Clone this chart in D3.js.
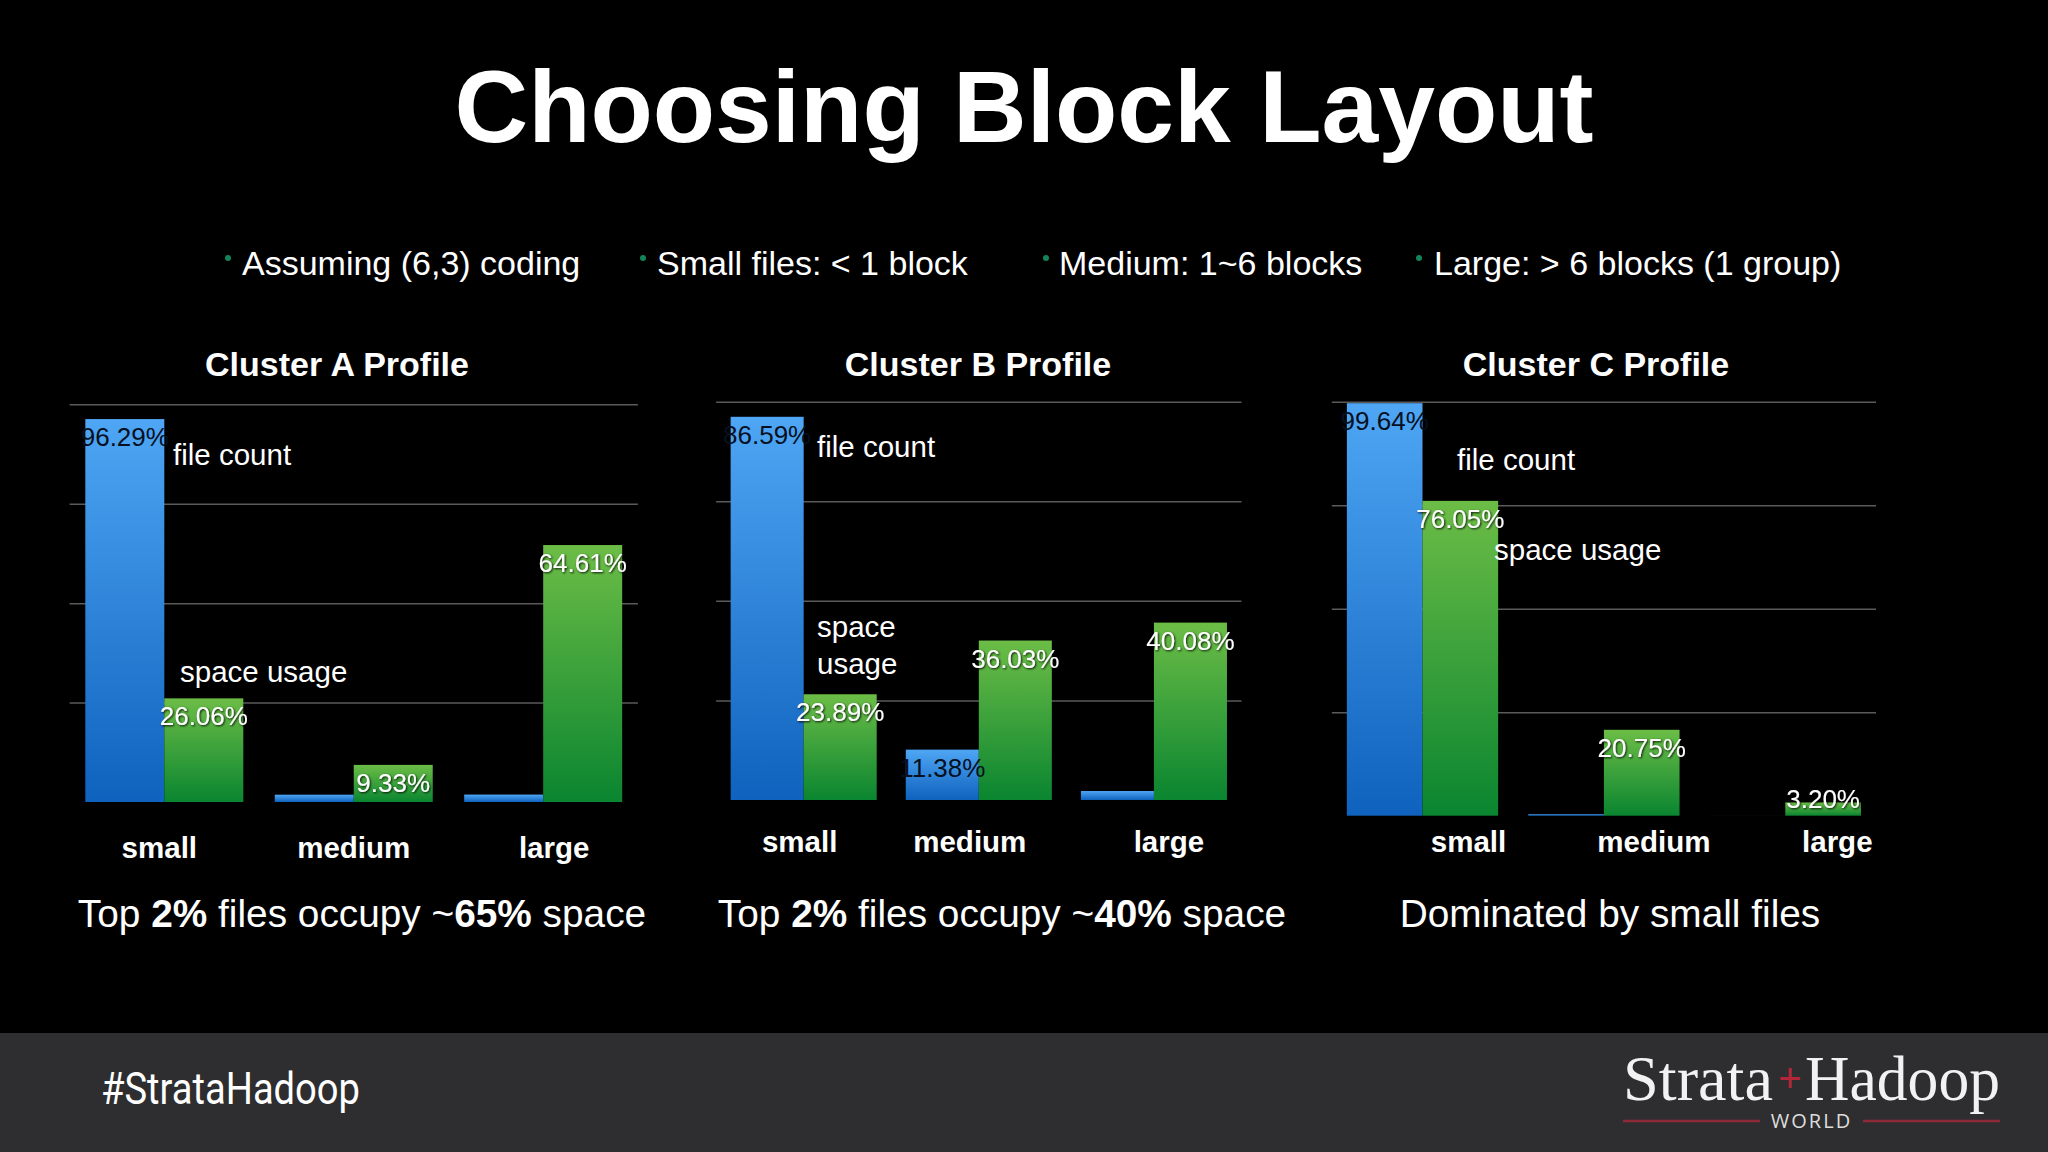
<!DOCTYPE html>
<html>
<head>
<meta charset="utf-8">
<script src="https://cdn.jsdelivr.net/npm/d3@7"></script>
<style>
  html, body { margin: 0; padding: 0; background: #000; }
  svg { display: block; }
</style>
</head>
<body>
<svg id="chart" width="2048" height="1152" font-family="'Liberation Sans', Arial, Helvetica, sans-serif"></svg>
<script>
// ---------------- data ----------------
const slideTitle = "Choosing Block Layout";
const bullets = ["Assuming (6,3) coding", "Small files: < 1 block", "Medium: 1~6 blocks", "Large: > 6 blocks (1 group)"];
const categories = ["small", "medium", "large"];
const clusterNames = ["Cluster A Profile", "Cluster B Profile", "Cluster C Profile"];
const fileCountA = [96.29, 1.84, 1.87];
const spaceUsageA = [26.06, 9.33, 64.61];
const fileCountB = [86.59, 11.38, 2.03];
const spaceUsageB = [23.89, 36.03, 40.08];
const fileCountC = [99.64, 0.35, 0.01];
const spaceUsageC = [76.05, 20.75, 3.20];
const axisMax = [100, 90, 100];
const gridTicksA = [25, 50, 75, 100];
const gridTicksB = [22.5, 45, 67.5, 90];
const gridTicksC = [25, 50, 75, 100];
const seriesNames = ["file count", "space usage"];
// captions: segments [text, bold]
const captionA = [["Top ", false], ["2%", true], [" files occupy ~", false], ["65%", true], [" space", false]];
const captionB = [["Top ", false], ["2%", true], [" files occupy ~", false], ["40%", true], [" space", false]];
const captionC = [["Dominated by small files", false]];
const hashtag = "#StrataHadoop";

// ---------------- layout (positions only) ----------------
const layout = [
  { x0: 69.6, x1: 637.9, yBase: 802, yTop: 404.3, titleX: 337, catY: 858, catOff: [-5, 0, 11],
    ann: [{ lines: ["file count"], x: 173, y: 465 }, { lines: ["space usage"], x: 180, y: 682 }], capX: 362 },
  { x0: 716.1, x1: 1241.5, yBase: 800, yTop: 401.7, titleX: 978, catY: 852, catOff: [-4, -9, 15],
    ann: [{ lines: ["file count"], x: 817, y: 457 }, { lines: ["space", "usage"], x: 817, y: 637 }], capX: 1002 },
  { x0: 1331.8, x1: 1876, yBase: 815.7, yTop: 401.7, titleX: 1596, catY: 852, catOff: [46, 50, 52],
    ann: [{ lines: ["file count"], x: 1457, y: 470 }, { lines: ["space usage"], x: 1494, y: 560 }], capX: 1610 }
];

const clusterData = [
  { name: clusterNames[0], file: fileCountA, space: spaceUsageA, max: axisMax[0], ticks: gridTicksA, caption: captionA },
  { name: clusterNames[1], file: fileCountB, space: spaceUsageB, max: axisMax[1], ticks: gridTicksB, caption: captionB },
  { name: clusterNames[2], file: fileCountC, space: spaceUsageC, max: axisMax[2], ticks: gridTicksC, caption: captionC }
];

const svg = d3.select("#chart");
svg.append("rect").attr("width", 2048).attr("height", 1152).attr("fill", "#000");

const defs = svg.append("defs");
const blueGrad = defs.append("linearGradient").attr("id", "blueGrad").attr("x1", 0).attr("y1", 0).attr("x2", 0).attr("y2", 1);
blueGrad.append("stop").attr("offset", "0%").attr("stop-color", "#4ea6f4");
blueGrad.append("stop").attr("offset", "100%").attr("stop-color", "#0f62bd");
const greenGrad = defs.append("linearGradient").attr("id", "greenGrad").attr("x1", 0).attr("y1", 0).attr("x2", 0).attr("y2", 1);
greenGrad.append("stop").attr("offset", "0%").attr("stop-color", "#6cbd46");
greenGrad.append("stop").attr("offset", "100%").attr("stop-color", "#0a8530");
const shadow = defs.append("filter").attr("id", "shadow").attr("x", "-20%").attr("y", "-20%").attr("width", "140%").attr("height", "140%");
shadow.append("feDropShadow").attr("dx", 1).attr("dy", 1).attr("stdDeviation", 0.8).attr("flood-color", "#000").attr("flood-opacity", 0.9);

// ---------------- title ----------------
svg.append("text").attr("x", 1024).attr("y", 142).attr("text-anchor", "middle")
  .attr("font-size", 102).attr("font-weight", "bold").attr("fill", "#fff").text(slideTitle);

// ---------------- bullets ----------------
const bulletX = [242, 657, 1059, 1434];
const bulletDotX = [228, 643, 1046, 1419];
bullets.forEach((b, i) => {
  svg.append("circle").attr("cx", bulletDotX[i]).attr("cy", 258).attr("r", 3).attr("fill", "#14845a");
  svg.append("text").attr("x", bulletX[i]).attr("y", 275).attr("font-size", 34).attr("fill", "#fff").text(b);
});

// ---------------- charts ----------------
const fmt = d3.format(".2f");
clusterData.forEach((cd, ci) => {
  const L = layout[ci];
  const g = svg.append("g");
  const x = d3.scaleBand().domain(categories).range([L.x0, L.x1]).paddingInner(0.166).paddingOuter(0.083);
  const xs = d3.scaleBand().domain(seriesNames).range([0, x.bandwidth()]);
  const y = d3.scaleLinear().domain([0, cd.max]).range([L.yBase, L.yTop]);

  // gridlines via axis
  const grid = g.append("g").attr("transform", `translate(${L.x0},0)`)
    .call(d3.axisRight(y).tickValues(cd.ticks).tickSize(L.x1 - L.x0).tickFormat(""));
  grid.select(".domain").remove();
  grid.selectAll(".tick line").attr("stroke", "#5a5a5a").attr("stroke-width", 1.5);

  // title
  g.append("text").attr("x", L.titleX).attr("y", 376).attr("text-anchor", "middle")
    .attr("font-size", 34).attr("font-weight", "bold").attr("fill", "#fff").text(cd.name);

  const rows = categories.map((c, i) => ({ cat: c, i, file: cd.file[i], space: cd.space[i] }));

  // bars
  const grp = g.selectAll("g.grp").data(rows).join("g").attr("class", "grp")
    .attr("transform", d => `translate(${x(d.cat)},0)`);
  grp.append("rect").attr("x", xs("file count")).attr("width", xs.bandwidth())
    .attr("y", d => y(d.file)).attr("height", d => y(0) - y(d.file)).attr("fill", "url(#blueGrad)");
  grp.append("rect").attr("x", xs("space usage")).attr("width", xs.bandwidth())
    .attr("y", d => y(d.space)).attr("height", d => y(0) - y(d.space)).attr("fill", "url(#greenGrad)");

  const labelY = v => Math.min(y(v) + 27, y(0) - 8);
  // blue value labels (dark text, invisible on black when bar is too short)
  grp.filter(d => y(0) - y(d.file) > 20).append("text")
    .attr("x", xs("file count") + xs.bandwidth() / 2).attr("y", d => labelY(d.file))
    .attr("text-anchor", "middle").attr("font-size", 26).attr("fill", "#06101f")
    .text(d => fmt(d.file) + "%");
  // green value labels (white with shadow)
  grp.append("text").attr("x", xs("space usage") + xs.bandwidth() / 2).attr("y", d => labelY(d.space))
    .attr("text-anchor", "middle").attr("font-size", 26).attr("fill", "#fff").attr("filter", "url(#shadow)")
    .text(d => fmt(d.space) + "%");

  // category labels
  g.selectAll("text.cat").data(categories).join("text").attr("class", "cat")
    .attr("x", (d, i) => x(d) + x.bandwidth() / 2 + L.catOff[i]).attr("y", L.catY)
    .attr("text-anchor", "middle").attr("font-size", 29.5).attr("font-weight", "bold").attr("fill", "#fff")
    .text(d => d);

  // series annotations
  L.ann.forEach(a => {
    const t = g.append("text").attr("x", a.x).attr("y", a.y).attr("font-size", 29.5).attr("fill", "#fff");
    a.lines.forEach((ln, li) => t.append("tspan").attr("x", a.x).attr("dy", li === 0 ? 0 : 36.5).text(ln));
  });

  // caption
  const cap = g.append("text").attr("x", L.capX).attr("y", 927).attr("text-anchor", "middle")
    .attr("font-size", 38.8).attr("fill", "#fff");
  cd.caption.forEach(s => cap.append("tspan").attr("font-weight", s[1] ? "bold" : "normal").text(s[0]));
});

// ---------------- footer ----------------
svg.append("rect").attr("x", 0).attr("y", 1033).attr("width", 2048).attr("height", 119).attr("fill", "#2e2e30");
svg.append("text").attr("x", 101).attr("y", 1104).attr("font-size", 44)
  .style("font-family", "Roboto, 'Liberation Sans', sans-serif").attr("fill", "#fff")
  .attr("textLength", 259).attr("lengthAdjust", "spacingAndGlyphs").text(hashtag);

const logo = svg.append("g");
logo.append("text").attr("x", 1623).attr("y", 1100).attr("font-size", 64)
  .style("font-family", "'Liberation Serif', 'DejaVu Serif', serif").attr("fill", "#f2f2f2")
  .attr("textLength", 150).attr("lengthAdjust", "spacingAndGlyphs").text("Strata");
logo.append("text").attr("x", 1790).attr("y", 1092).attr("text-anchor", "middle").attr("font-size", 40)
  .attr("fill", "#b3263a").text("+");
logo.append("text").attr("x", 1805).attr("y", 1100).attr("font-size", 64)
  .style("font-family", "'Liberation Serif', 'DejaVu Serif', serif").attr("fill", "#f2f2f2")
  .attr("textLength", 195).attr("lengthAdjust", "spacingAndGlyphs").text("Hadoop");
logo.append("line").attr("x1", 1623).attr("x2", 1760).attr("y1", 1121).attr("y2", 1121).attr("stroke", "#8e2a38").attr("stroke-width", 2.5);
logo.append("line").attr("x1", 1863).attr("x2", 2000).attr("y1", 1121).attr("y2", 1121).attr("stroke", "#8e2a38").attr("stroke-width", 2.5);
logo.append("text").attr("x", 1811.5).attr("y", 1128).attr("text-anchor", "middle").attr("font-size", 20)
  .style("font-family", "'Open Sans', 'Liberation Sans', sans-serif").attr("fill", "#dddddd")
  .attr("letter-spacing", 2).text("WORLD");
</script>
</body>
</html>
